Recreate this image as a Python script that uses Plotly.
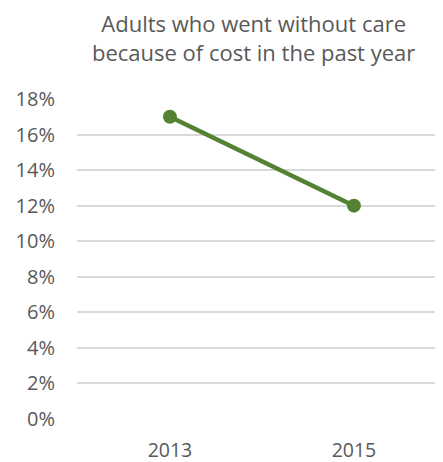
import plotly.graph_objects as go

years = ["2013", "2015"]
values = [0.17, 0.12]
y_ticks = [0, 0.02, 0.04, 0.06, 0.08, 0.10, 0.12, 0.14, 0.16, 0.18]
y_tick_labels = ["0%", "2%", "4%", "6%", "8%", "10%", "12%", "14%", "16%", "18%"]
title_text = "Adults who went without care<br>because of cost in the past year"

GREEN = "#548235"
TEXT = "#595959"
GRID = "#d9d9d9"
FONT = "Open Sans"

W, H = 435, 454  # page body has an 8px default margin
L, R, T, B = 69, 0, 91, 43

fig = go.Figure()
fig.add_trace(go.Scatter(
    x=years, y=values, mode="lines+markers",
    line=dict(color=GREEN, width=4.5),
    marker=dict(color=GREEN, size=14),
    cliponaxis=False, showlegend=False, hoverinfo="skip",
))

fig.update_layout(
    width=W, height=H,
    margin=dict(l=L, r=R, t=T, b=B),
    paper_bgcolor="white", plot_bgcolor="white",
    font=dict(family=FONT, color=TEXT, size=20),
    xaxis=dict(
        type="category", range=[-0.505, 1.484], automargin=False,
        showgrid=False, zeroline=False, showline=False,
        ticks="", tickfont=dict(size=19.5, color=TEXT), ticklabelstandoff=17,
    ),
    yaxis=dict(
        range=[0, 0.18], tickvals=y_ticks, ticktext=y_tick_labels, automargin=False,
        showgrid=True, gridcolor=GRID, gridwidth=1.5,
        zeroline=False, showline=False, ticks="",
        tickfont=dict(size=20, color=TEXT), ticklabelstandoff=21,
    ),
    annotations=[dict(
        text=title_text, xref="paper", yref="paper",
        x=(245 - L) / (W - L - R), y=1 + (T - 30) / (H - T - B),
        xanchor="center", yanchor="middle", showarrow=False, borderpad=0,
        font=dict(family=FONT, size=22, color=TEXT), align="center",
    )],
)

fig.write_html("out.html")
